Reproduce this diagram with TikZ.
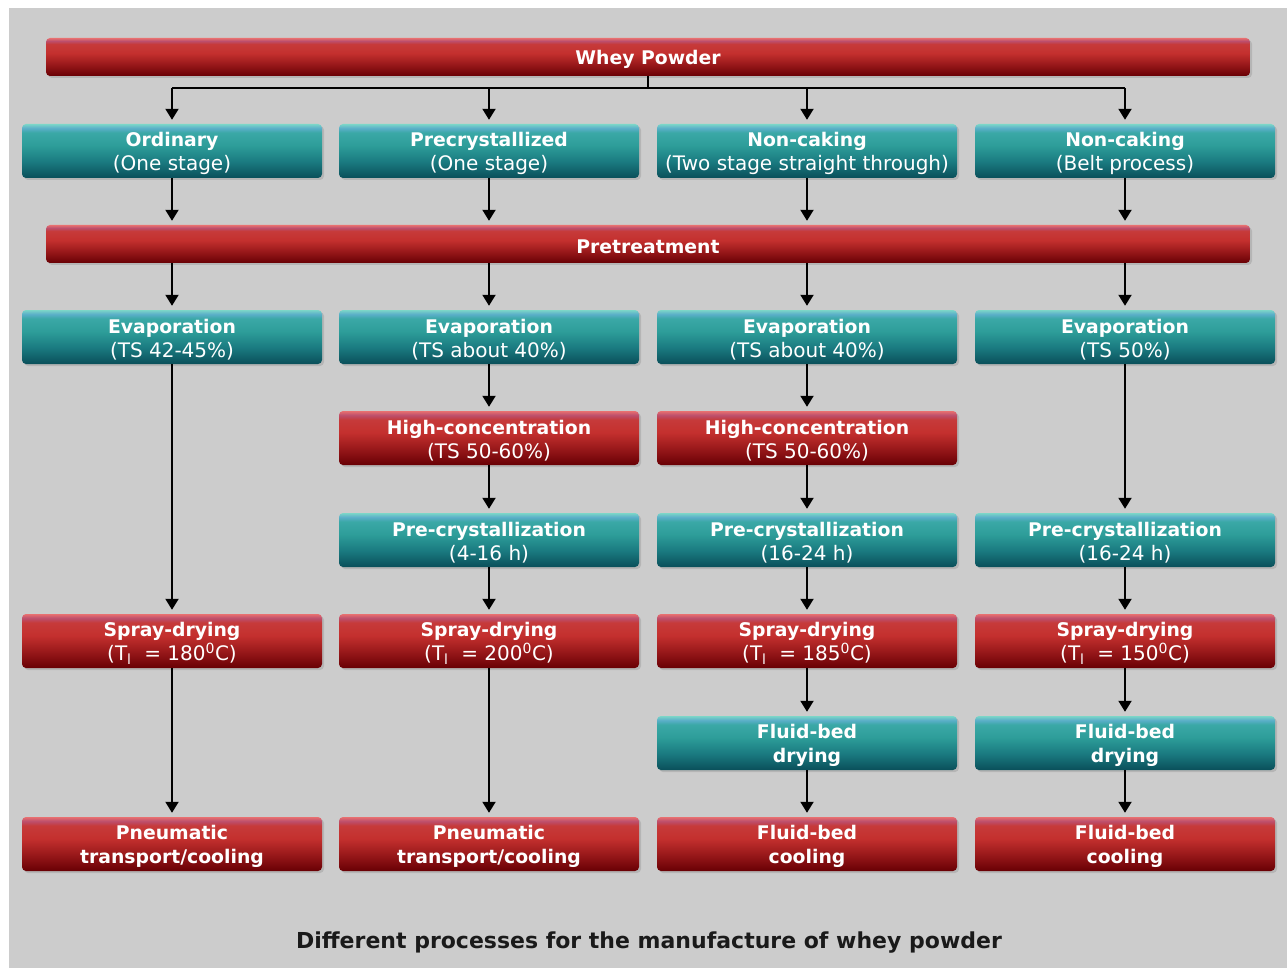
\documentclass[tikz,border=0pt]{standalone}
\usepackage{fontspec}
\setmainfont{DejaVu Sans}
\usetikzlibrary{arrows.meta,shadows}
\definecolor{bggray}{HTML}{CCCCCC}
\definecolor{tA}{HTML}{0A4F5A}
\definecolor{tB}{HTML}{1A7A80}
\definecolor{tC}{HTML}{2D9D99}
\definecolor{tD}{HTML}{3AA8A6}
\definecolor{tE}{HTML}{5AAEC8}
\definecolor{tF}{HTML}{7CD6C8}
\definecolor{rA}{HTML}{680004}
\definecolor{rB}{HTML}{98181A}
\definecolor{rC}{HTML}{C4302E}
\definecolor{rD}{HTML}{C63A3A}
\definecolor{rE}{HTML}{BC4E6C}
\definecolor{rF}{HTML}{E87070}
\definecolor{captxt}{HTML}{1A1A1A}
\pgfdeclareverticalshading{tealsh}{100bp}{color(0bp)=(tA); color(25bp)=(tA); color(40bp)=(tB); color(55bp)=(tC); color(67bp)=(tD); color(71bp)=(tE); color(75bp)=(tF); color(100bp)=(tF)}
\pgfdeclareverticalshading{redsh}{100bp}{color(0bp)=(rA); color(25bp)=(rA); color(40bp)=(rB); color(55bp)=(rC); color(67bp)=(rD); color(71bp)=(rE); color(75bp)=(rF); color(100bp)=(rF)}
\newcommand\hd[1]{{\fontsize{18.8}{24}\selectfont\bfseries\rule{0pt}{19pt}#1}}
\begin{document}
\begin{tikzpicture}[x=1pt,y=-1pt,
  basebox/.style={rounded corners=4pt, inner sep=0pt, align=center, text=white,
    font=\fontsize{20}{24}\selectfont,
    drop shadow={shadow xshift=2pt,shadow yshift=-2pt,opacity=0.3}},
  tealbox/.style={basebox, shading=tealsh, minimum width=300pt, minimum height=54pt},
  redbox/.style={basebox, shading=redsh, minimum width=300pt, minimum height=54pt},
  redbar/.style={basebox, shading=redsh, minimum width=1204pt, minimum height=38pt},
  ln/.style={line width=2pt, black},
  arr/.style={ln, -{Triangle[width=13pt,length=11pt]}, shorten >=4pt}
]
\useasboundingbox (0,0) rectangle (1287,968);
\fill[white] (0,0) rectangle (1287,968);
\fill[bggray] (9,8) rectangle (1287,968);

% top bars
\node[redbar] (wp) at (648,57) {\hd{Whey Powder}};
\node[redbar] (pt) at (648,244) {\hd{Pretreatment}};

% row 1
\node[tealbox] (a1) at (172,151) {\hd{Ordinary}\\(One stage)};
\node[tealbox] (b1) at (489,151) {\hd{Precrystallized}\\(One stage)};
\node[tealbox] (c1) at (807,151) {\hd{Non-caking}\\(Two stage straight through)};
\node[tealbox] (d1) at (1125,151) {\hd{Non-caking}\\(Belt process)};

% evaporation
\node[tealbox] (a2) at (172,337) {\hd{Evaporation}\\(TS 42-45\%)};
\node[tealbox] (b2) at (489,337) {\hd{Evaporation}\\(TS about 40\%)};
\node[tealbox] (c2) at (807,337) {\hd{Evaporation}\\(TS about 40\%)};
\node[tealbox] (d2) at (1125,337) {\hd{Evaporation}\\(TS 50\%)};

% high concentration
\node[redbox] (b3) at (489,438) {\hd{High-concentration}\\(TS 50-60\%)};
\node[redbox] (c3) at (807,438) {\hd{High-concentration}\\(TS 50-60\%)};

% pre-crystallization
\node[tealbox] (b4) at (489,540) {\hd{Pre-crystallization}\\(4-16 h)};
\node[tealbox] (c4) at (807,540) {\hd{Pre-crystallization}\\(16-24 h)};
\node[tealbox] (d4) at (1125,540) {\hd{Pre-crystallization}\\(16-24 h)};

% spray drying
\node[redbox] (a5) at (172,641) {\hd{Spray-drying}\\(T\textsubscript{l}\ \ = 180\textsuperscript{0}C)};
\node[redbox] (b5) at (489,641) {\hd{Spray-drying}\\(T\textsubscript{l}\ \ = 200\textsuperscript{0}C)};
\node[redbox] (c5) at (807,641) {\hd{Spray-drying}\\(T\textsubscript{l}\ \ = 185\textsuperscript{0}C)};
\node[redbox] (d5) at (1125,641) {\hd{Spray-drying}\\(T\textsubscript{l}\ \ = 150\textsuperscript{0}C)};

% fluid bed drying
\node[tealbox] (c6) at (807,743) {\hd{Fluid-bed}\\\hd{drying}};
\node[tealbox] (d6) at (1125,743) {\hd{Fluid-bed}\\\hd{drying}};

% final
\node[redbox] (a7) at (172,844) {\hd{Pneumatic}\\\hd{transport/cooling}};
\node[redbox] (b7) at (489,844) {\hd{Pneumatic}\\\hd{transport/cooling}};
\node[redbox] (c7) at (807,844) {\hd{Fluid-bed}\\\hd{cooling}};
\node[redbox] (d7) at (1125,844) {\hd{Fluid-bed}\\\hd{cooling}};

% caption
\node[font=\bfseries\fontsize{22}{26}\selectfont, text=captxt] (cap) at (649,943) {Different processes for the manufacture of whey powder};

% split from Whey Powder
\coordinate (sp) at (648,88);
\draw[ln] (wp.south) -- (sp);
\draw[ln] (sp -| a1.north) -- (sp -| d1.north);
\foreach \n in {a1,b1,c1,d1}{
  \draw[arr] (sp -| \n.north) -- (\n.north);
  \draw[arr] (\n.south) -- (\n.south |- pt.north);
}
\foreach \n in {a2,b2,c2,d2}{
  \draw[arr] (\n.north |- pt.south) -- (\n.north);
}
% column a
\draw[arr] (a2) -- (a5);
\draw[arr] (a5) -- (a7);
% column b
\draw[arr] (b2) -- (b3);
\draw[arr] (b3) -- (b4);
\draw[arr] (b4) -- (b5);
\draw[arr] (b5) -- (b7);
% column c
\draw[arr] (c2) -- (c3);
\draw[arr] (c3) -- (c4);
\draw[arr] (c4) -- (c5);
\draw[arr] (c5) -- (c6);
\draw[arr] (c6) -- (c7);
% column d
\draw[arr] (d2) -- (d4);
\draw[arr] (d4) -- (d5);
\draw[arr] (d5) -- (d6);
\draw[arr] (d6) -- (d7);
\end{tikzpicture}
\end{document}
